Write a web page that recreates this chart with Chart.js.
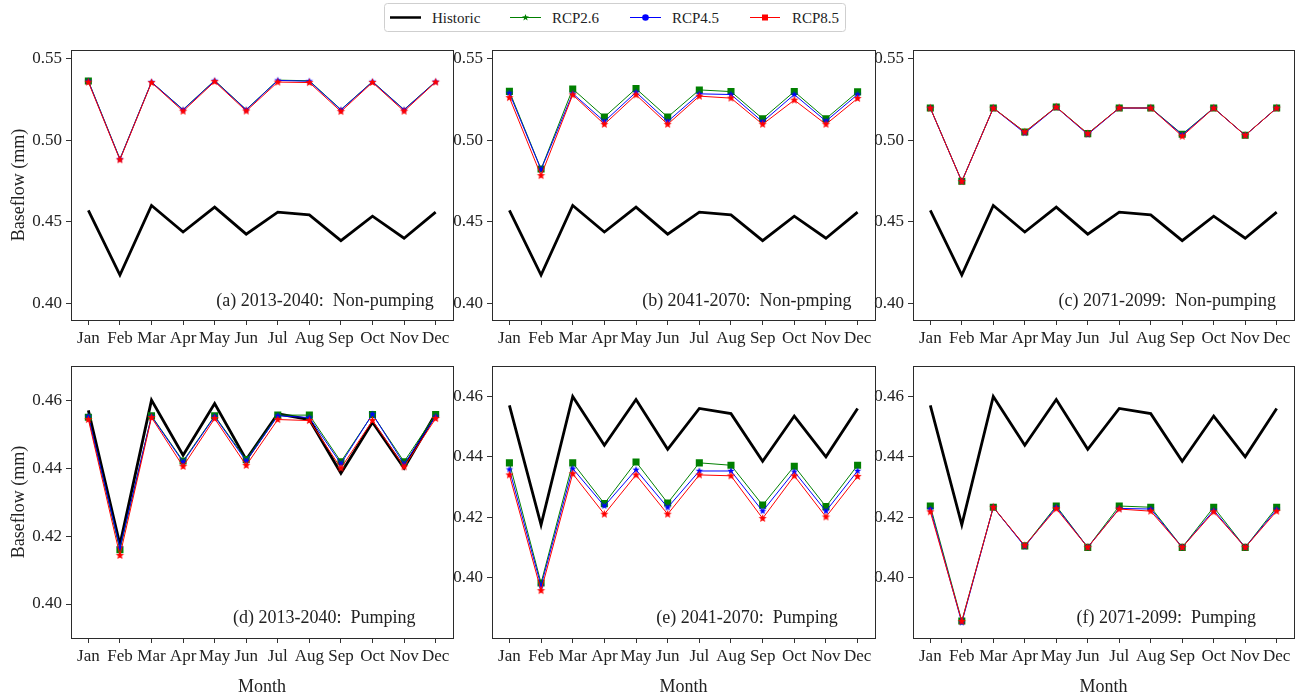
<!DOCTYPE html>
<html>
<head>
<meta charset="utf-8">
<script src="https://cdn.jsdelivr.net/npm/chart.js@4.4.1/dist/chart.umd.min.js"></script>
<style>
  body { margin: 0; background: #fff; width: 1299px; height: 698px; position: relative; overflow: hidden; }
  canvas { position: absolute; }
  #legend { position: absolute; left: 384px; top: 3px; }
  #legend text { font-family: "Liberation Serif", serif; font-size: 15px; fill: #222; }
</style>
</head>
<body>
<svg id="legend" width="462" height="30">
  <rect x="0.5" y="0.5" width="461" height="28" rx="3" fill="#fff" stroke="#cfcfcf"/>
  <line x1="6" y1="14.5" x2="37" y2="14.5" stroke="#000" stroke-width="2.5"/>
  <text x="48" y="20">Historic</text>
  <line x1="126" y1="14.5" x2="157" y2="14.5" stroke="#008000" stroke-width="1"/>
  <polygon id="legStar" fill="#008000"/>
  <text x="168" y="20">RCP2.6</text>
  <line x1="246" y1="14.5" x2="277" y2="14.5" stroke="#0000ff" stroke-width="1"/>
  <circle cx="261.5" cy="14.5" r="3.3" fill="#0000ff"/>
  <text x="288" y="20">RCP4.5</text>
  <line x1="366" y1="14.5" x2="396" y2="14.5" stroke="#ff0000" stroke-width="1"/>
  <rect x="378" y="11.5" width="6" height="6" fill="#ff0000"/>
  <text x="408" y="20">RCP8.5</text>
</svg>

<canvas id="pa"></canvas>
<canvas id="pb"></canvas>
<canvas id="pc"></canvas>
<canvas id="pd"></canvas>
<canvas id="pe"></canvas>
<canvas id="pf"></canvas>

<script>
const months = ['Jan', 'Feb', 'Mar', 'Apr', 'May', 'Jun', 'Jul', 'Aug', 'Sep', 'Oct', 'Nov', 'Dec'];
const ticksNonPumping = [0.40, 0.45, 0.50, 0.55];
const ticksPumping = [0.40, 0.42, 0.44, 0.46];

// historic monthly baseflow (same reference line in every panel)
const historic = [0.457, 0.4175, 0.460, 0.4438, 0.459, 0.4425, 0.456, 0.4543, 0.4385, 0.4535, 0.4400, 0.456];

// non-pumping scenarios
const np2013_26 = [0.5362, 0.4885, 0.5355, 0.5187, 0.5365, 0.5187, 0.5367, 0.5363, 0.5187, 0.5358, 0.5187, 0.5358];
const np2013_45 = [0.5360, 0.4883, 0.5355, 0.5185, 0.5363, 0.5185, 0.5365, 0.5360, 0.5185, 0.5357, 0.5185, 0.5357];
const np2013_85 = [0.5355, 0.4880, 0.5352, 0.5177, 0.5358, 0.5178, 0.5355, 0.5352, 0.5175, 0.5353, 0.5177, 0.5355];

const np2041_26 = [0.5298, 0.4823, 0.5313, 0.5141, 0.5315, 0.5141, 0.5307, 0.5297, 0.5131, 0.5297, 0.5131, 0.5295];
const np2041_45 = [0.5287, 0.4820, 0.5285, 0.5114, 0.5293, 0.5114, 0.5283, 0.5279, 0.5112, 0.5279, 0.5116, 0.5279];
const np2041_85 = [0.5260, 0.4783, 0.5277, 0.5097, 0.5277, 0.5097, 0.5269, 0.5257, 0.5097, 0.5245, 0.5097, 0.5255];

const np2071_26 = [0.5197, 0.4748, 0.5197, 0.5050, 0.5203, 0.5040, 0.5197, 0.5197, 0.5036, 0.5197, 0.5030, 0.5197];
const np2071_45 = [0.5196, 0.4747, 0.5196, 0.5043, 0.5201, 0.5035, 0.5196, 0.5196, 0.5032, 0.5196, 0.5029, 0.5196];
const np2071_85 = [0.5196, 0.4747, 0.5196, 0.5049, 0.5202, 0.5039, 0.5197, 0.5196, 0.5024, 0.5196, 0.5029, 0.5196];

// pumping scenarios
const p2013_26 = [0.4550, 0.4160, 0.4554, 0.4421, 0.4554, 0.4425, 0.4556, 0.4556, 0.4419, 0.4558, 0.4419, 0.4558];
const p2013_45 = [0.4552, 0.4166, 0.4552, 0.4418, 0.4552, 0.4421, 0.4554, 0.4549, 0.4413, 0.4559, 0.4412, 0.4552];
const p2013_85 = [0.4543, 0.4143, 0.4549, 0.4405, 0.4546, 0.4408, 0.4543, 0.4540, 0.4400, 0.4540, 0.4404, 0.4546];

const p2041_26 = [0.4380, 0.3982, 0.4380, 0.4245, 0.4383, 0.4247, 0.4380, 0.4372, 0.4240, 0.4369, 0.4235, 0.4372];
const p2041_45 = [0.4358, 0.3973, 0.4361, 0.4237, 0.4357, 0.4232, 0.4353, 0.4353, 0.4220, 0.4351, 0.4220, 0.4353];
const p2041_85 = [0.4340, 0.3957, 0.4344, 0.4210, 0.4340, 0.4210, 0.4340, 0.4337, 0.4196, 0.4337, 0.4201, 0.4335];

const p2071_26 = [0.4237, 0.3856, 0.4233, 0.4105, 0.4237, 0.4100, 0.4237, 0.4233, 0.4100, 0.4233, 0.4100, 0.4233];
const p2071_45 = [0.4227, 0.3851, 0.4233, 0.4103, 0.4233, 0.4100, 0.4229, 0.4227, 0.4100, 0.4223, 0.4100, 0.4226];
const p2071_85 = [0.4218, 0.3855, 0.4233, 0.4106, 0.4228, 0.4100, 0.4227, 0.4220, 0.4100, 0.4218, 0.4100, 0.4220];

const FONT = '"Liberation Serif", serif';

function starMarker(color, rOut, rIn) {
  const s = Math.ceil(rOut * 2) + 2;
  const c = document.createElement('canvas');
  c.width = c.height = s;
  const g = c.getContext('2d');
  g.beginPath();
  for (let k = 0; k < 10; k++) {
    const r = k % 2 ? rIn : rOut;
    const a = -Math.PI / 2 + k * Math.PI / 5;
    const px = s / 2 + r * Math.cos(a), py = s / 2 + r * Math.sin(a);
    k ? g.lineTo(px, py) : g.moveTo(px, py);
  }
  g.closePath();
  g.fillStyle = color;
  g.fill();
  return c;
}
const blueStar = starMarker('#0000ff', 3.8, 1.6);
const redStar = starMarker('#ff0000', 4.3, 1.9);

// legend star for RCP2.6
(function () {
  const pts = [];
  for (let k = 0; k < 10; k++) {
    const r = k % 2 ? 1.5 : 3.6;
    const a = -Math.PI / 2 + k * Math.PI / 5;
    pts.push((141.5 + r * Math.cos(a)).toFixed(2) + ',' + (14.5 + r * Math.sin(a)).toFixed(2));
  }
  document.getElementById('legStar').setAttribute('points', pts.join(' '));
})();

const pts = arr => arr.map((v, i) => ({ x: i, y: v }));

// box around the plot area, drawn over the lines like matplotlib spines
const framePlugin = {
  id: 'frame',
  afterDatasetsDraw(chart) {
    const { ctx, chartArea: a } = chart;
    ctx.save();
    ctx.strokeStyle = '#2b2b2b';
    ctx.lineWidth = 1;
    ctx.strokeRect(Math.round(a.left) + 0.5, Math.round(a.top) + 0.5,
      Math.round(a.right - a.left), Math.round(a.bottom - a.top));
    ctx.restore();
  }
};

// panel caption inside the axes
const notePlugin = {
  id: 'note',
  afterDraw(chart, args, opts) {
    const { ctx, chartArea: a } = chart;
    ctx.save();
    ctx.font = '18px ' + FONT;
    ctx.fillStyle = '#222';
    ctx.textBaseline = 'middle';
    ctx.textAlign = 'left';
    ctx.fillText(opts.text, a.left + opts.fx * (a.right - a.left), a.bottom - opts.dy);
    ctx.restore();
  }
};

// in panel (a) only the January square of RCP2.6 shows
const squaresJanOnly = months.map((m, i) => i === 0 ? 5 : 0);

const panels = [
  { id: 'pa', left: 0,   top: 36,  w: 460, h: 314, yW: 71, padR: 7, padT: 5, xH: 30, yMin: 0.39, yMax: 0.555, yt: ticksNonPumping,
    s: [np2013_26, np2013_45, np2013_85], text: '(a) 2013-2040:  Non-pumping', fx: 0.380, dy: 19, yTitle: true, sq: squaresJanOnly },
  { id: 'pb', left: 440, top: 36,  w: 440, h: 314, yW: 52, padR: 5, padT: 5, xH: 30, yMin: 0.39, yMax: 0.555, yt: ticksNonPumping,
    s: [np2041_26, np2041_45, np2041_85], text: '(b) 2041-2070:  Non-pmping', fx: 0.392, dy: 19 },
  { id: 'pc', left: 860, top: 36,  w: 439, h: 314, yW: 53, padR: 3, padT: 5, xH: 30, yMin: 0.39, yMax: 0.555, yt: ticksNonPumping,
    s: [np2071_26, np2071_45, np2071_85], text: '(c) 2071-2099:  Non-pumping', fx: 0.382, dy: 19 },
  { id: 'pd', left: 0,   top: 352, w: 460, h: 346, yW: 71, padR: 7, padT: 7, xH: 60, yMin: 0.39, yMax: 0.47, yt: ticksPumping,
    s: [p2013_26, p2013_45, p2013_85], text: '(d) 2013-2040:  Pumping', fx: 0.424, dy: 20, yTitle: true, xTitle: true },
  { id: 'pe', left: 440, top: 352, w: 440, h: 346, yW: 52, padR: 5, padT: 7, xH: 60, yMin: 0.38, yMax: 0.47, yt: ticksPumping,
    s: [p2041_26, p2041_45, p2041_85], text: '(e) 2041-2070:  Pumping', fx: 0.429, dy: 20, xTitle: true },
  { id: 'pf', left: 860, top: 352, w: 439, h: 346, yW: 53, padR: 3, padT: 7, xH: 60, yMin: 0.38, yMax: 0.47, yt: ticksPumping,
    s: [p2071_26, p2071_45, p2071_85], text: '(f) 2071-2099:  Pumping', fx: 0.429, dy: 20, xTitle: true }
];

panels.forEach(p => {
  const cv = document.getElementById(p.id);
  cv.width = p.w; cv.height = p.h;
  cv.style.left = p.left + 'px';
  cv.style.top = p.top + 'px';

  new Chart(cv.getContext('2d'), {
    type: 'line',
    data: {
      datasets: [
        { label: 'Historic', data: pts(historic), borderColor: '#000', borderWidth: 2.8, pointRadius: 0, order: 4 },
        { label: 'RCP2.6', data: pts(p.s[0]), borderColor: '#008000', backgroundColor: '#008000', borderWidth: 1,
          pointStyle: 'rect', pointRadius: p.sq || 5, pointBorderWidth: 0, order: 3 },
        { label: 'RCP4.5', data: pts(p.s[1]), borderColor: '#0000ff', borderWidth: 1, pointStyle: blueStar, order: 2 },
        { label: 'RCP8.5', data: pts(p.s[2]), borderColor: '#ff0000', borderWidth: 1, pointStyle: redStar, order: 1 }
      ]
    },
    options: {
      responsive: false,
      animation: false,
      devicePixelRatio: 1,
      layout: { padding: { top: p.padT, right: p.padR, left: 0, bottom: 0 } },
      plugins: {
        legend: { display: false },
        tooltip: { enabled: false },
        note: { text: p.text, fx: p.fx, dy: p.dy }
      },
      scales: {
        x: {
          type: 'linear', min: -0.55, max: 11.55,
          afterBuildTicks: s => { s.ticks = months.map((m, i) => ({ value: i })); },
          afterFit: s => { s.height = p.xH; },
          ticks: { autoSkip: false, maxRotation: 0, minRotation: 0, padding: 3, color: '#222',
            font: { family: FONT, size: 17 }, callback: v => months[v] },
          grid: { drawOnChartArea: false, drawTicks: true, tickLength: 5, color: '#333' },
          border: { display: false },
          title: { display: !!p.xTitle, text: 'Month', color: '#222', font: { family: FONT, size: 18 },
            padding: { top: 0, bottom: 0 } }
        },
        y: {
          min: p.yMin, max: p.yMax,
          afterBuildTicks: s => { s.ticks = p.yt.map(v => ({ value: v })); },
          afterFit: s => { s.width = p.yW; },
          ticks: { padding: 4, color: '#222', font: { family: FONT, size: 17 }, callback: v => v.toFixed(2) },
          grid: { drawOnChartArea: false, drawTicks: true, tickLength: 5, color: '#333' },
          border: { display: false },
          title: { display: !!p.yTitle, text: 'Baseflow (mm)', color: '#222', font: { family: FONT, size: 18 },
            padding: { top: 8, bottom: 0 } }
        }
      }
    },
    plugins: [framePlugin, notePlugin]
  });
});
</script>
</body>
</html>
